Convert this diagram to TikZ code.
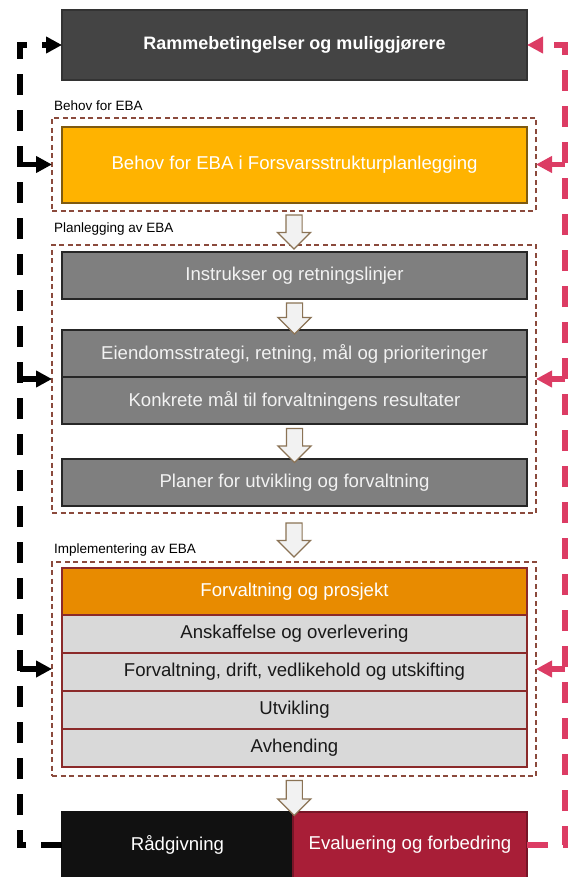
\documentclass[tikz,border=0pt]{standalone}
\usepackage{fontspec}
\setmainfont{Liberation Sans}
\usetikzlibrary{shapes.arrows, arrows.meta, positioning, calc}

\definecolor{colorRamme}{HTML}{444444}
\definecolor{colorNeed}{HTML}{FFB300}
\definecolor{colorNeedLine}{HTML}{7F5A10}
\definecolor{colorPlan}{HTML}{7F7F7F}
\definecolor{colorImpl}{HTML}{E88B00}
\definecolor{colorRow}{HTML}{D9D9D9}
\definecolor{colorRowLine}{HTML}{8B2A2A}
\definecolor{colorPhase}{HTML}{8B4A3C}
\definecolor{colorBlock}{HTML}{8B7355}
\definecolor{colorBlockFill}{HTML}{F2F2F2}
\definecolor{colorAdvice}{HTML}{111111}
\definecolor{colorEval}{HTML}{A81E37}
\definecolor{colorLoopRed}{HTML}{DC3C64}

\tikzstyle{boxbase} = [rectangle, minimum width=465pt, inner sep=0pt, outer sep=0pt, text centered, line width=1.2pt, font=\fontsize{18.6}{20}\selectfont]
\tikzstyle{ramme} = [boxbase, minimum height=70pt, fill=colorRamme, draw=black!80, text=white, font=\fontsize{18}{20}\selectfont\bfseries]
\tikzstyle{need} = [boxbase, minimum height=76pt, fill=colorNeed, draw=colorNeedLine, text=white]
\tikzstyle{plan} = [boxbase, minimum height=47pt, fill=colorPlan, draw=black!85, text=white!95!black]
\tikzstyle{impl} = [boxbase, minimum height=47pt, fill=colorImpl, draw=colorRowLine, text=white]
\tikzstyle{row} = [boxbase, minimum height=38pt, fill=colorRow, draw=colorRowLine, text=black!90]
\tikzstyle{phase} = [rectangle, minimum width=484pt, outer sep=0pt, draw=colorPhase, dash pattern=on 5pt off 3.5pt, line width=1.1pt]
\tikzstyle{phaselabel} = [anchor=west, inner sep=0pt, font=\fontsize{13.5}{15}\selectfont]
\tikzstyle{blockarrow} = [single arrow, rotate=-90, draw=colorBlock, fill=colorBlockFill, line width=1.2pt, inner sep=7.5pt, single arrow head extend=8.5pt, minimum height=34pt]
\tikzstyle{loopblack} = [draw=black, line width=5.5pt, dash pattern=on 21pt off 15pt, -{Triangle[length=16pt,width=16pt]}]
\tikzstyle{loopred} = [draw=colorLoopRed, line width=5.5pt, dash pattern=on 21pt off 15pt, -{Triangle[length=16pt,width=16pt]}]

\begin{document}
\begin{tikzpicture}[x=1pt, y=-1pt]

	\useasboundingbox (0,0) rectangle (568,877);
	\clip (0,0) rectangle (568,877);

	% top
	\node (ramme)[ramme] at (294.5,45) {Rammebetingelser og muliggjørere};

	% behov
	\node (cont1)[phase, minimum height=93pt] at (294,164.5) {};
	\node (labNeed)[phaselabel] at (54,106) {Behov for EBA};
	\node (need)[need] at (294.5,165) {Behov for EBA i Forsvarsstrukturplanlegging};

	% planlegging
	\node (cont2)[phase, minimum height=268pt] at (294,379) {};
	\node (labPlan)[phaselabel] at (54,229) {Planlegging av EBA};
	\node (instr)[plan, anchor=north] at (294.5,252) {Instrukser og retningslinjer};
	\node (strat)[plan, anchor=north] at (294.5,330) {Eiendomsstrategi, retning, mål og prioriteringer};
	\node (goals)[plan, below=0pt of strat] {Konkrete mål til forvaltningens resultater};
	\node (plans)[plan, anchor=north] at (294.5,459) {Planer for utvikling og forvaltning};

	% implementering
	\node (cont3)[phase, minimum height=214pt] at (294,669) {};
	\node (labImpl)[phaselabel] at (54,550) {Implementering av EBA};
	\node (manage)[impl, anchor=north] at (294.5,568) {Forvaltning og prosjekt};
	\node (rowBuy)[row, below=0pt of manage] {Anskaffelse og overlevering};
	\node (rowRun)[row, below=0pt of rowBuy] {Forvaltning, drift, vedlikehold og utskifting};
	\node (rowDev)[row, below=0pt of rowRun] {Utvikling};
	\node (rowSell)[row, below=0pt of rowDev] {Avhending};

	% bottom
	\node (advice)[boxbase, minimum width=231pt, minimum height=66pt, fill=colorAdvice, draw=colorAdvice, text=white, anchor=north west] at (62,812) {Rådgivning};
	\node (evalu)[boxbase, minimum width=234pt, minimum height=66pt, fill=colorEval, draw=colorEval!70!black, text=white, anchor=north west] at (293,812) {Evaluering og forbedring};

	% block arrows
	\node (a1)[blockarrow] at ($(cont1.south)!0.5!(cont2.north)$) {};
	\node (a2)[blockarrow, minimum height=31pt] at ($(instr.south)!0.5!(strat.north)$) {};
	\node (a3)[blockarrow] at ($(goals.south)!0.5!(plans.north)$) {};
	\node (a4)[blockarrow] at ($(cont2.south)!0.5!(cont3.north)+(0,-1.5)$) {};
	\node (a5)[blockarrow, minimum height=35pt] at ($(cont3.south)!0.5!(advice.north -| need.south)$) {};

	% feedback loops
	\coordinate (loopL) at (20,0);
	\coordinate (loopR) at (565,0);

	\draw[loopblack] (advice.west) -- (loopL |- advice.west) -- (loopL |- ramme.west) -- (ramme.west);
	\draw[loopblack] (loopL |- cont1.west) -- (cont1.west);
	\draw[loopblack] (loopL |- cont2.west) -- (cont2.west);
	\draw[loopblack] (loopL |- cont3.west) -- (cont3.west);

	\draw[loopred] (evalu.east) -- (loopR |- evalu.east) -- (loopR |- ramme.east) -- (ramme.east);
	\draw[loopred] (loopR |- cont1.east) -- (cont1.east);
	\draw[loopred] (loopR |- cont2.east) -- (cont2.east);
	\draw[loopred] (loopR |- cont3.east) -- (cont3.east);

\end{tikzpicture}
\end{document}
